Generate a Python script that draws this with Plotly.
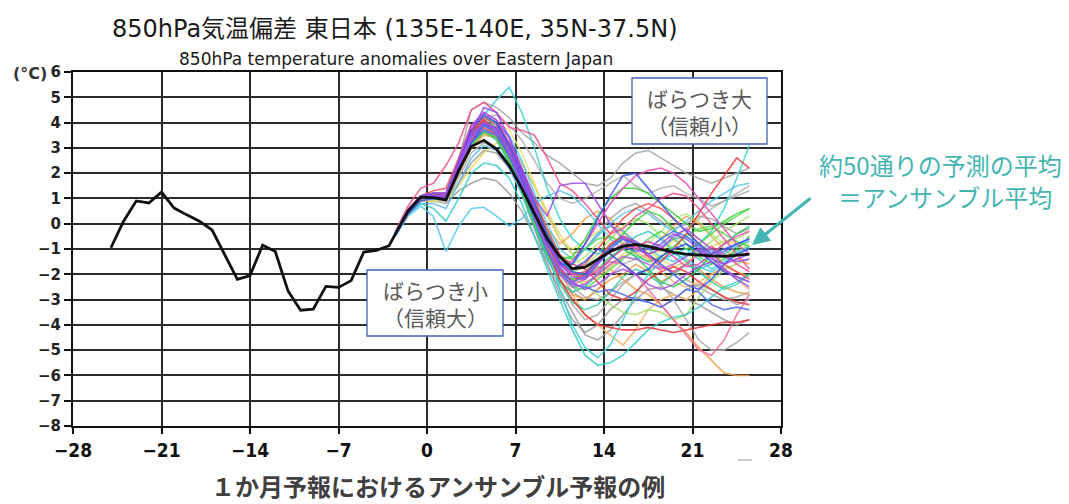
import plotly.graph_objects as go

# ---------------- data ----------------
obs_days = list(range(-25, -2))          # analysed (observed) days
obs_vals = [-0.95, 0.1, 0.9, 0.82, 1.25, 0.62, 0.35, 0.1, -0.25, -1.25, -2.2, -2.05,
            -0.85, -1.1, -2.65, -3.42, -3.38, -2.48, -2.52, -2.25, -1.12, -1.05, -0.87]

ens_days = [d + 0.5 for d in range(-3, 26)]   # forecast days (-2.5 .. 25.5)
mean_vals = [-0.4, 0.5, 1.05, 1.03, 0.95, 2.1, 3.05, 3.3, 2.95, 2.3, 1.4, 0.4, -0.6, -1.3,
             -1.78, -1.72, -1.4, -1.1, -0.9, -0.82, -0.9, -1.02, -1.13, -1.2, -1.24, -1.27,
             -1.29, -1.26, -1.2]

gray_members = [
    [-0.35,0.55,1.1,1.2,1.2,2.5,4.5,4.8,4.6,4.2,3.6,3.2,2.7,2.4,2.0,1.6,1.5,1.8,2.4,2.8,2.9,2.6,2.3,2.0,1.8,1.6,1.8,2.0,2.2],
    [-0.45,0.4,1.0,1.1,1.0,2.2,3.6,4.2,4.3,3.9,3.3,2.5,1.6,1.0,0.8,1.0,1.3,1.6,1.9,1.5,1.2,1.4,1.5,1.2,1.0,0.7,0.9,1.2,1.5],
    [-0.45,0.4,0.9,0.9,0.8,1.3,1.6,1.8,1.7,1.2,0.5,-0.5,-1.6,-2.6,-3.5,-4.4,-4.6,-4.2,-3.6,-3.0,-2.6,-2.5,-2.8,-3.0,-3.2,-3.5,-3.8,-4.0,-3.8],
    [-0.4,0.5,1.0,1.0,0.9,2.0,3.2,3.6,3.4,2.6,1.6,0.3,-1.0,-2.2,-3.2,-3.8,-3.6,-3.0,-2.4,-2.0,-1.8,-2.4,-3.0,-3.8,-4.6,-5.0,-5.0,-4.7,-4.3],
    [-0.4,0.5,1.0,1.1,1.0,2.2,3.4,4.0,3.8,3.2,2.4,1.5,0.4,-0.6,-1.2,-1.0,-0.4,0.2,0.6,0.8,0.5,0.1,-0.2,0.0,0.3,0.2,-0.1,-0.4,-0.2],
    [-0.45,0.4,1.0,1.0,0.9,1.8,2.8,3.2,3.0,2.3,1.4,0.2,-1.0,-2.0,-2.7,-3.0,-2.6,-2.0,-1.6,-1.4,-1.2,-1.0,-0.6,-0.2,0.2,0.6,0.9,1.1,1.3],
    [-0.4,0.45,0.95,1.0,0.9,1.6,2.4,2.9,2.8,2.2,1.2,-0.2,-1.6,-2.8,-3.8,-4.3,-4.0,-3.4,-3.0,-2.9,-3.1,-3.3,-3.0,-2.6,-2.4,-2.6,-2.9,-3.2,-3.0],
    [-0.4,0.5,1.0,1.1,1.0,2.1,3.3,3.8,3.5,2.6,1.5,0.2,-1.0,-1.9,-2.5,-2.9,-3.0,-2.7,-2.3,-2.0,-1.8,-1.7,-1.9,-2.2,-2.5,-2.8,-3.0,-2.9,-2.7],
]
cyan_members = [
    [-0.4,0.5,1.0,1.1,1.1,2.3,3.6,4.3,4.9,5.4,4.4,3.0,1.4,0.2,-0.6,-1.0,-1.2,-0.9,-0.6,-0.8,-1.0,-1.3,-1.5,-1.2,-0.8,-0.3,0.6,1.8,3.1],
    [-0.5,0.3,0.7,0.3,-1.1,-0.1,0.6,0.65,0.3,-0.1,0.2,0.8,1.1,1.3,1.1,0.6,0.0,-0.6,-1.0,-1.3,-1.5,-1.4,-1.2,-1.4,-1.7,-1.9,-1.6,-1.2,-0.9],
    [-0.45,0.4,0.8,0.6,0.1,1.0,2.0,2.4,2.3,1.8,0.8,-0.5,-1.8,-3.0,-4.2,-5.2,-5.6,-5.5,-5.2,-4.7,-4.2,-3.9,-3.7,-3.6,-3.3,-2.9,-2.5,-2.3,-2.0],
    [-0.4,0.5,1.1,1.2,1.0,2.2,3.5,4.2,3.9,3.0,1.9,0.6,-1.0,-2.6,-4.0,-4.9,-5.3,-4.8,-3.8,-2.8,-2.0,-1.5,-1.2,-1.0,-1.4,-1.8,-1.5,-1.1,-0.9],
    [-0.4,0.5,1.0,1.0,1.0,2.1,3.3,3.9,4.0,3.5,2.5,1.2,0.0,-1.0,-1.4,-1.0,-0.5,0.0,0.4,0.6,0.4,0.0,-0.3,0.1,0.5,0.9,1.2,1.5,1.6],
]
red_members = [
    [-0.35,0.55,1.1,1.2,1.1,2.4,3.7,4.0,3.5,2.7,1.6,0.4,-0.8,-1.8,-2.3,-2.0,-1.4,-0.8,-0.5,-0.8,-1.3,-1.5,-1.0,-0.4,0.4,1.2,1.9,2.6,2.2],
    [-0.45,0.4,1.0,1.1,1.0,2.1,3.3,3.8,3.5,2.8,1.7,0.3,-1.0,-2.2,-3.0,-3.6,-4.0,-4.1,-4.2,-4.2,-4.1,-4.2,-4.3,-4.2,-4.1,-4.0,-3.9,-3.9,-3.8],
    [-0.35,0.55,1.1,1.3,1.4,2.6,3.9,4.1,3.7,3.0,2.2,1.0,-0.2,-1.2,-1.8,-1.6,-1.0,-0.4,0.2,0.6,0.8,0.6,0.2,-0.3,-0.8,-1.2,-1.6,-1.9,-2.2],
    [-0.4,0.5,1.0,1.1,1.1,2.3,3.6,4.1,3.7,2.8,1.7,0.5,-0.6,-1.3,-1.6,-1.8,-2.3,-2.8,-3.0,-2.7,-2.2,-1.9,-1.7,-1.9,-2.3,-2.6,-2.9,-3.1,-3.2],
]
pink_members = [
    [-0.3,0.7,1.4,1.6,2.3,3.2,4.5,4.8,4.4,3.8,3.7,3.5,2.6,1.6,1.3,0.8,0.2,-0.4,-0.2,0.3,0.6,1.0,1.2,1.1,0.6,0.0,-0.6,-1.2,-1.8],
    [-0.4,0.5,1.0,1.1,1.0,2.2,3.5,4.0,3.6,2.8,1.7,0.4,-0.8,-1.5,-1.5,-0.8,0.0,0.8,1.4,1.9,2.1,2.2,2.0,1.6,1.0,0.4,-0.2,-0.8,-1.2],
    [-0.4,0.5,1.0,1.1,1.0,2.1,3.3,3.8,3.5,2.7,1.6,0.2,-1.0,-2.0,-2.4,-2.2,-1.8,-1.5,-1.6,-2.0,-2.6,-3.2,-3.8,-4.4,-5.0,-5.2,-4.6,-3.6,-2.8],
    [-0.35,0.55,1.1,1.2,1.2,2.4,3.7,4.2,3.9,3.0,1.8,0.5,-0.7,-1.6,-2.0,-1.9,-1.5,-1.1,-0.8,-0.9,-1.3,-1.7,-1.9,-1.6,-1.2,-0.9,-1.2,-1.6,-1.9],
    [-0.4,0.5,1.0,1.1,1.1,2.4,3.8,4.4,4.1,3.2,2.0,0.7,-0.5,-1.5,-2.0,-2.1,-1.9,-1.4,-1.0,-0.9,-0.7,-0.9,-1.3,-1.7,-1.6,-1.2,-0.8,-0.5,-0.3],
]
orange_members = [
    [-0.4,0.5,1.0,1.0,1.0,2.0,3.0,3.5,3.4,2.8,1.8,0.5,-0.8,-1.8,-2.2,-2.0,-1.7,-1.8,-2.2,-2.6,-2.8,-3.2,-3.8,-4.3,-4.9,-5.4,-5.9,-6.0,-6.0],
    [-0.4,0.5,1.0,1.0,0.9,1.9,3.0,3.6,3.5,2.9,2.0,0.8,-0.6,-1.8,-2.8,-3.6,-4.0,-4.4,-4.8,-4.2,-3.4,-3.0,-2.8,-3.0,-2.6,-2.0,-1.8,-2.2,-2.6],
    [-0.4,0.5,1.0,1.1,1.0,2.1,3.3,3.7,3.4,2.5,1.4,0.1,-1.2,-2.2,-2.8,-3.0,-2.6,-2.2,-2.0,-1.6,-1.9,-2.3,-2.0,-1.6,-1.8,-2.2,-2.5,-2.7,-2.8],
    [-0.4,0.5,1.0,1.1,1.1,2.3,3.5,4.0,3.8,3.0,2.0,0.9,-0.2,-0.8,-0.4,0.2,0.5,0.2,-0.3,-0.8,-1.0,-0.6,-0.1,0.3,0.0,-0.5,-1.0,-1.4,-1.6],
    [-0.4,0.5,1.0,1.0,1.0,2.1,3.3,3.9,3.7,2.9,1.8,0.6,-0.6,-1.5,-2.0,-2.3,-2.1,-1.7,-1.3,-1.1,-1.4,-1.9,-2.3,-2.5,-2.3,-2.0,-1.7,-1.9,-2.1],
]
yellow_members = [
    [-0.45,0.4,0.9,0.9,0.9,1.5,2.2,2.8,3.2,3.0,2.4,1.5,0.5,-0.4,-1.2,-1.8,-2.0,-1.6,-1.2,-1.0,-1.1,-1.4,-1.7,-1.5,-1.2,-0.9,-0.7,-0.8,-0.9],
    [-0.4,0.5,1.0,1.0,1.0,2.0,3.1,3.8,4.0,3.7,2.8,1.6,0.3,-0.6,-1.0,-0.7,-0.3,-0.1,-0.4,-0.8,-1.2,-1.1,-0.7,-0.4,-0.6,-1.0,-1.3,-1.1,-0.8],
]
lime_members = [
    [-0.4,0.5,1.0,1.1,1.0,2.1,3.3,3.8,3.6,2.8,1.7,0.4,-0.9,-1.8,-2.2,-2.4,-2.8,-3.2,-3.5,-3.6,-3.4,-3.5,-3.8,-3.6,-2.9,-2.3,-1.8,-1.6,-1.4],
    [-0.4,0.5,1.0,1.1,1.0,2.2,3.4,3.9,3.7,2.9,1.9,0.7,-0.5,-1.3,-1.6,-1.3,-0.8,-0.5,-0.7,-1.0,-0.8,-0.3,0.2,0.4,0.1,-0.4,-0.8,-0.6,-0.3],
    [-0.4,0.5,1.0,1.1,1.0,2.2,3.4,3.8,3.5,2.7,1.6,0.4,-0.8,-1.6,-1.9,-1.7,-1.2,-0.6,-0.1,0.2,0.0,-0.5,-1.0,-1.3,-1.1,-0.7,-0.3,0.0,0.3],
]
green_members = [
    [-0.4,0.5,1.0,1.1,1.1,2.3,3.6,4.1,3.8,3.0,1.9,0.6,-0.6,-1.4,-1.3,-0.6,0.3,1.0,1.4,1.4,1.2,0.8,0.4,0.0,-0.3,-0.2,0.1,0.4,0.6],
    [-0.4,0.5,1.0,1.1,1.0,2.1,3.3,3.8,3.5,2.6,1.5,0.2,-1.0,-1.9,-2.5,-2.6,-2.2,-1.8,-1.4,-1.0,-0.6,-0.3,-0.6,-1.0,-0.8,-0.4,0.0,0.3,0.6],
    [-0.35,0.55,1.1,1.2,1.1,2.3,3.5,4.2,4.0,3.2,2.1,0.9,-0.3,-1.3,-1.9,-2.1,-1.8,-1.3,-1.0,-1.3,-1.8,-2.3,-2.5,-2.2,-1.8,-1.2,-0.8,-0.4,-0.1],
    [-0.4,0.5,1.0,1.0,1.0,2.0,3.1,3.6,3.4,2.5,1.3,0.0,-1.2,-2.0,-2.2,-1.9,-1.4,-0.9,-0.4,0.1,0.5,0.3,-0.2,-0.8,-1.3,-1.6,-1.4,-1.0,-0.5],
    [-0.4,0.5,1.0,1.1,1.0,2.2,3.5,4.0,3.7,2.9,1.8,0.6,-0.6,-1.3,-1.4,-1.0,-0.6,-0.5,-0.8,-1.2,-1.5,-1.3,-0.9,-0.5,-0.2,-0.1,-0.4,-0.7,-0.9],
]
blue_members = [
    [-0.4,0.5,1.0,1.1,1.0,2.2,3.4,4.0,3.7,2.8,1.7,0.4,-0.8,-1.6,-1.6,-0.8,0.2,1.1,1.9,2.0,1.4,0.8,0.2,-0.3,-0.8,-1.2,-1.0,-0.8,-0.6],
    [-0.4,0.5,1.0,1.1,1.0,2.1,3.2,3.7,3.5,2.7,1.5,0.2,-1.1,-2.0,-2.4,-2.5,-2.7,-2.6,-2.8,-3.0,-3.1,-3.3,-3.0,-2.6,-2.7,-3.2,-3.4,-3.3,-3.4],
    [-0.35,0.55,1.1,1.2,1.2,2.4,3.7,4.3,4.0,3.1,2.0,0.8,-0.4,-1.3,-1.8,-1.5,-1.0,-1.2,-1.6,-2.0,-1.8,-1.3,-1.0,-0.8,-1.1,-1.5,-1.9,-2.1,-2.3],
    [-0.45,0.4,0.9,1.0,0.9,2.0,3.2,3.9,3.8,3.0,1.8,0.5,-0.7,-1.5,-1.9,-2.0,-1.5,-1.0,-0.6,-0.8,-1.2,-1.6,-2.0,-2.4,-2.6,-2.2,-1.6,-1.2,-1.0],
    [-0.4,0.5,1.0,1.1,1.0,2.2,3.4,3.9,3.6,2.7,1.5,0.2,-1.0,-1.9,-2.3,-2.1,-1.6,-1.1,-0.9,-1.1,-1.0,-0.6,-0.3,-0.5,-0.9,-1.3,-1.1,-0.8,-0.6],
]
purple_members = [
    [-0.35,0.55,1.1,1.2,1.2,2.5,3.9,4.4,4.1,3.4,2.2,1.0,0.3,1.5,1.6,1.6,0.8,0.0,-0.6,-1.0,-1.2,-1.0,-0.5,-0.2,-0.6,-1.0,-1.3,-1.5,-1.4],
    [-0.4,0.5,1.0,1.1,1.0,2.1,3.4,4.0,3.7,2.8,1.6,0.3,-1.0,-2.0,-2.5,-2.4,-2.0,-1.6,-1.3,-1.4,-1.6,-1.8,-1.6,-1.3,-1.0,-1.3,-1.8,-2.1,-2.3],
    [-0.4,0.5,1.0,1.1,1.1,2.3,3.6,4.6,4.4,3.4,2.1,0.7,-0.6,-1.6,-2.1,-2.2,-1.6,-0.9,-0.5,-0.7,-1.0,-0.8,-0.4,-0.6,-1.0,-1.4,-1.6,-1.4,-1.2],
    [-0.4,0.5,1.0,1.1,1.1,2.3,3.5,4.0,3.8,3.0,1.9,0.6,-0.7,-1.7,-2.3,-2.6,-2.4,-2.0,-1.8,-2.0,-2.4,-2.6,-2.4,-2.0,-1.7,-1.5,-1.8,-2.2,-2.5],
]
teal_members = [
    [-0.4,0.5,1.0,1.1,1.0,2.2,3.4,3.9,3.5,2.6,1.4,0.0,-1.3,-2.4,-3.1,-3.4,-3.2,-2.7,-2.1,-1.8,-2.0,-2.4,-2.0,-1.6,-1.9,-2.3,-2.6,-2.4,-2.0],
    [-0.4,0.5,1.0,1.0,1.0,2.0,3.2,3.7,3.3,2.4,1.2,-0.1,-1.4,-2.3,-2.7,-2.5,-2.0,-1.4,-0.9,-0.5,-0.3,-0.6,-1.1,-1.5,-1.8,-1.6,-1.2,-0.9,-0.7],
    [-0.45,0.35,0.8,0.8,0.6,1.6,2.6,3.1,2.9,2.2,1.2,0.0,-1.1,-1.7,-1.6,-1.0,-0.4,-0.1,-0.3,-0.7,-1.0,-0.9,-0.6,-0.5,-0.8,-1.1,-1.3,-1.2,-1.0],
]

x_ticks = [-28, -21, -14, -7, 0, 7, 14, 21, 28]
y_ticks = list(range(-8, 7))

title_text = "850hPa気温偏差 東日本 (135E-140E, 35N-37.5N)"
subtitle_text = "850hPa temperature anomalies over Eastern Japan"
caption_text = "１か月予報におけるアンサンブル予報の例"

# ---------------- figure ----------------
groups = [
    (gray_members, ["#A6A6A6", "#B0B0B0", "#9C9C9C", "#ABABAB"]),
    (yellow_members, ["#E4DE5A", "#EDE36E"]),
    (orange_members, ["#F5A04E", "#F7B066", "#EF9A40"]),
    (lime_members, ["#A6E06A", "#B8E67A"]),
    (teal_members, ["#3CCBA6", "#2EC2B8", "#5DB6EE"]),
    (cyan_members, ["#3ED4D8", "#55C8F0", "#35CFC8"]),
    (green_members, ["#3CD23C", "#55D94A", "#2FC85A"]),
    (red_members, ["#F03A3A", "#E83030", "#F25050"]),
    (pink_members, ["#F0508E", "#E84AB8", "#F26AA0"]),
    (blue_members, ["#3C55F0", "#4A6BF5", "#2E48E0"]),
    (purple_members, ["#A24EE8", "#B05AE0", "#9048F0"]),
]

fig = go.Figure()
for members, cols in groups:
    for i, vals in enumerate(members):
        fig.add_trace(go.Scatter(x=ens_days, y=vals, mode="lines",
                                 line=dict(color=cols[i % len(cols)], width=1.6),
                                 opacity=0.85, hoverinfo="skip"))

fig.add_trace(go.Scatter(x=obs_days + ens_days, y=obs_vals + mean_vals, mode="lines",
                         line=dict(color="#111111", width=2.8)))

# page has an 8px body margin: the figure is drawn from page pixel (8, 8)
OFF = 8
W, H = 1069 - OFF, 504 - OFF
# plot area in page pixels
PX0, PX1, PY0, PY1 = 73, 781, 72, 426
def px(v): return (v - PX0) / (PX1 - PX0)
def py(v): return (PY1 - v) / (PY1 - PY0)

cjk = "Noto Sans CJK JP, Noto Sans, sans-serif"
mono = "DejaVu Sans, Noto Sans CJK JP, sans-serif"
teal = "#45B5B2"

anns = [
    dict(x=px(395), y=py(29), text=title_text, font=dict(family=mono, size=24, color="#1a1a1a")),
    dict(x=px(396), y=py(59), text=subtitle_text, font=dict(family=mono, size=17, color="#1a1a1a")),
    dict(x=px(30), y=py(74), text="(°C)", font=dict(family=mono, size=16, color="#333333", weight="bold")),
    dict(x=px(699), y=py(111), text="ばらつき大<br>（信頼小）", font=dict(family=cjk, size=21, color="#595959")),
    dict(x=px(435), y=py(303), text="ばらつき小<br>（信頼大）", font=dict(family=cjk, size=21, color="#595959")),
    dict(x=px(941), y=py(164), text="約50通りの予測の平均", font=dict(family=cjk, size=24, color=teal)),
    dict(x=px(945), y=py(196), text="＝アンサンブル平均", font=dict(family=cjk, size=24, color=teal)),
    dict(x=px(438), y=py(485), text=caption_text, font=dict(family=cjk, size=24, color="#404040", weight="bold")),
]
for a in anns:
    a.update(xref="paper", yref="paper", showarrow=False, xanchor="center", yanchor="middle")
anns.append(dict(xref="paper", yref="paper", x=px(752), y=py(245), ax=60, ay=-48,
                 showarrow=True, arrowhead=2, arrowsize=1.1, arrowwidth=3.2, arrowcolor=teal, text=""))

shapes = [
    dict(type="rect", xref="paper", yref="paper", x0=px(632), x1=px(767), y0=py(78), y1=py(144),
         line=dict(color="#3F63B0", width=1.3), fillcolor="white", layer="above"),
    dict(type="rect", xref="paper", yref="paper", x0=px(367), x1=px(503), y0=py(270), y1=py(336),
         line=dict(color="#3F63B0", width=1.3), fillcolor="white", layer="above"),
    dict(type="line", xref="paper", yref="paper", x0=px(738), x1=px(752), y0=py(460), y1=py(460),
         line=dict(color="#BBBBBB", width=1.5)),
]

tickfont_x = dict(family="DejaVu Sans Condensed, DejaVu Sans, sans-serif", size=19, color="#111111", weight="bold")
tickfont_y = dict(family="DejaVu Sans, sans-serif", size=15, color="#222222", weight="bold")

fig.update_layout(
    width=W, height=H,
    margin=dict(l=PX0 - OFF, r=1069 - PX1, t=PY0 - OFF, b=504 - PY1, pad=0),
    paper_bgcolor="white", plot_bgcolor="white",
    showlegend=False,
    annotations=anns, shapes=shapes,
    xaxis=dict(range=[-28, 28], tickvals=x_ticks, ticktext=[str(v).replace("-", "−") for v in x_ticks],
               showgrid=True, gridcolor="#2b2b2b", gridwidth=1.6, zeroline=False,
               showline=True, linecolor="#111111", linewidth=2, mirror=True,
               ticks="outside", ticklen=6, tickwidth=1.5, tickcolor="#111111",
               tickfont=tickfont_x, fixedrange=True),
    yaxis=dict(range=[-8, 6], tickvals=y_ticks, ticktext=[str(v).replace("-", "−") for v in y_ticks],
               showgrid=True, gridcolor="#2b2b2b", gridwidth=1.6, zeroline=False,
               showline=True, linecolor="#111111", linewidth=2, mirror=True,
               ticks="outside", ticklen=7, tickwidth=1.5, tickcolor="#111111",
               tickfont=tickfont_y, fixedrange=True),
)

fig.write_html("out.html")
